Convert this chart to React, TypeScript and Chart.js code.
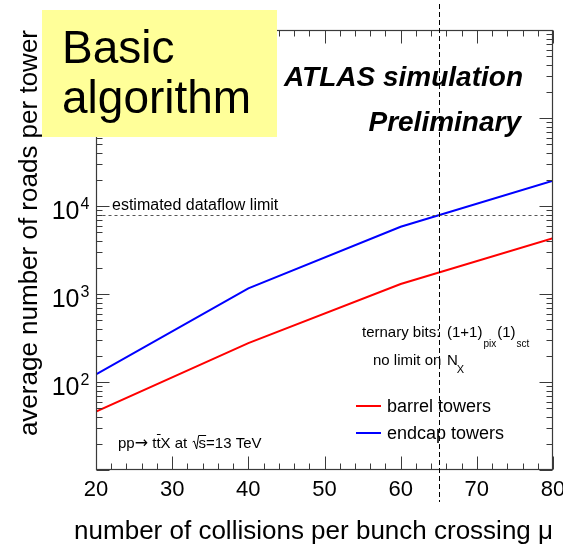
import React, { useEffect, useRef } from "react";
import { Chart, registerables } from "chart.js";

Chart.register(...registerables);

// Pile-up scan points and average road counts per tower
const mu = [20, 40, 60, 80];
const barrelRoads = [46, 277, 1300, 4300];
const endcapRoads = [122, 1160, 5800, 19400];

// Reference lines
const dataflowLimit = 8000;
const muBoundary = 65;

// Axis labelling
const xTickLabels = [20, 30, 40, 50, 60, 70, 80];
const yDecadeLabels = [2, 3, 4];
const seriesNames = ["barrel towers", "endcap towers"];
const seriesColors = ["#ff0000", "#0000ff"];

const FONT = '"Liberation Sans", Arial, Helvetica, sans-serif';

function seg(ctx: CanvasRenderingContext2D, x1: number, y1: number, x2: number, y2: number) {
  ctx.beginPath();
  ctx.moveTo(x1, y1);
  ctx.lineTo(x2, y2);
  ctx.stroke();
}

const rootStylePlugin = {
  id: "rootStyle",
  afterDraw(chart: any) {
    const ctx: CanvasRenderingContext2D = chart.ctx;
    const xs = chart.scales.x;
    const ys = chart.scales.y;
    const { left, right, top, bottom } = chart.chartArea;
    const L = Math.round(left) + 0.5;
    const R = Math.round(right) - 0.5;
    const T = Math.round(top) + 0.5;
    const B = Math.round(bottom) - 0.5;

    ctx.save();

    // estimated dataflow limit
    const yl = Math.round(ys.getPixelForValue(dataflowLimit)) + 0.5;
    ctx.strokeStyle = "#555";
    ctx.lineWidth = 1;
    ctx.setLineDash([3, 3]);
    seg(ctx, L, yl, R, yl);
    ctx.setLineDash([]);

    // frame
    ctx.strokeStyle = "#3a3a3a";
    ctx.lineWidth = 1.2;
    ctx.strokeRect(L, T, R - L, B - T);

    // x ticks (inward, bottom and top)
    ctx.lineWidth = 1;
    for (let v = 20; v <= 80; v += 2) {
      const px = Math.round(xs.getPixelForValue(v)) + 0.5;
      const len = v % 10 === 0 ? 13 : 6;
      seg(ctx, px, B, px, B - len);
      seg(ctx, px, T, px, T + len);
    }

    // y ticks (inward, left and right)
    for (let d = 1; d <= 6; d++) {
      for (let m = 1; m <= 9; m++) {
        const v = m * Math.pow(10, d);
        if (v > 1e6) break;
        const py = Math.round(ys.getPixelForValue(v)) + 0.5;
        const len = m === 1 ? 13 : 6;
        seg(ctx, L, py, L + len, py);
        seg(ctx, R, py, R - len, py);
      }
    }

    ctx.fillStyle = "#000";

    // x tick labels
    ctx.font = `22px ${FONT}`;
    ctx.textAlign = "center";
    ctx.textBaseline = "alphabetic";
    for (const v of xTickLabels) {
      ctx.fillText(String(v), xs.getPixelForValue(v), 496);
    }

    // y tick labels 10^n
    for (const d of yDecadeLabels) {
      const py = ys.getPixelForValue(Math.pow(10, d));
      ctx.font = `25px ${FONT}`;
      ctx.textAlign = "right";
      ctx.fillText("10", 79.5, py + 12.5);
      ctx.font = `16px ${FONT}`;
      ctx.textAlign = "left";
      ctx.fillText(String(d), 80.5, py + 2.5);
    }

    // axis titles
    ctx.font = `26px ${FONT}`;
    ctx.textAlign = "right";
    ctx.fillText("number of collisions per bunch crossing \u03bc", 553, 539);
    ctx.save();
    ctx.translate(37, 30);
    ctx.rotate(-Math.PI / 2);
    ctx.textAlign = "right";
    ctx.fillText("average number of roads per tower", 0, 0);
    ctx.restore();

    // dataflow limit label
    ctx.font = `16px ${FONT}`;
    ctx.textAlign = "left";
    ctx.fillText("estimated dataflow limit", 112, 210);

    // ATLAS label
    ctx.font = `italic bold 28px ${FONT}`;
    ctx.textAlign = "right";
    ctx.fillText("ATLAS simulation", 523, 86);
    ctx.fillText("Preliminary", 521, 131);

    // configuration text
    ctx.font = `15px ${FONT}`;
    ctx.textAlign = "left";
    ctx.fillText("ternary bits:", 362, 337);
    ctx.fillText("(1+1)", 447, 337);
    const w = ctx.measureText("(1+1)").width;
    ctx.font = `10px ${FONT}`;
    ctx.fillText("pix", 447 + w + 1, 347);
    const wPix = ctx.measureText("pix").width;
    ctx.font = `15px ${FONT}`;
    const x1 = 447 + w + 1 + wPix + 1;
    ctx.fillText("(1)", x1, 337);
    const w1 = ctx.measureText("(1)").width;
    ctx.font = `10px ${FONT}`;
    ctx.fillText("sct", x1 + w1 + 1, 347);

    ctx.font = `15px ${FONT}`;
    ctx.fillText("no limit on", 373, 365);
    ctx.fillText("N", 447, 365);
    const wN = ctx.measureText("N").width;
    ctx.font = `11px ${FONT}`;
    ctx.fillText("X", 447 + wN - 1, 373);

    // process label: pp -> t tbar X at sqrt(s)=13 TeV
    let cx = 118;
    const by = 448;
    const put = (s: string, font = `15px ${FONT}`) => {
      ctx.font = font;
      ctx.fillText(s, cx, by);
      const ww = ctx.measureText(s).width;
      const x0 = cx;
      cx += ww;
      return [x0, ww];
    };
    put("pp");
    put("\u2192", '16px "DejaVu Sans", sans-serif');
    put(" t");
    const [tbx, tbw] = put("t");
    ctx.lineWidth = 1;
    ctx.strokeStyle = "#000";
    seg(ctx, tbx + 0.5, by - 13.5, tbx + tbw, by - 13.5);
    put("X at  ");
    const sqrtX = cx;
    // radical sign
    ctx.beginPath();
    ctx.moveTo(sqrtX - 3, by - 6);
    ctx.lineTo(sqrtX - 1.5, by - 7);
    ctx.lineTo(sqrtX + 1, by + 1);
    ctx.lineTo(sqrtX + 3, by - 12.5);
    ctx.stroke();
    cx += 3;
    const [sx, sw] = put("s");
    seg(ctx, sqrtX + 3, by - 12.5, sx + sw, by - 12.5);
    put("=13 TeV");

    // legend
    ctx.lineWidth = 2;
    ctx.font = `18px ${FONT}`;
    const legendRows = [406, 433];
    seriesNames.forEach((name, i) => {
      const ly = legendRows[i];
      ctx.strokeStyle = seriesColors[i];
      seg(ctx, 356, ly, 381, ly);
      ctx.fillText(name, 387, ly + 6);
    });

    // mu boundary
    const xv = Math.round(xs.getPixelForValue(muBoundary)) + 0.5;
    ctx.strokeStyle = "#000";
    ctx.lineWidth = 1;
    ctx.setLineDash([5, 3]);
    seg(ctx, xv, 4, xv, 502);
    ctx.setLineDash([]);

    // algorithm tag
    ctx.fillStyle = "#ffff99";
    ctx.fillRect(42, 10, 235, 127);
    ctx.fillStyle = "#000";
    ctx.font = `46px ${FONT}`;
    ctx.textAlign = "left";
    ctx.fillText("Basic", 62, 63);
    ctx.fillText("algorithm", 62, 113);

    ctx.restore();
  },
};

export default function App() {
  const canvasRef = useRef<HTMLCanvasElement | null>(null);

  useEffect(() => {
    const canvas = canvasRef.current;
    if (!canvas) return;
    const chart = new Chart(canvas, {
      type: "line",
      data: {
        datasets: [
          {
            label: seriesNames[0],
            data: mu.map((m, i) => ({ x: m, y: barrelRoads[i] })),
            borderColor: seriesColors[0],
            borderWidth: 2,
            pointRadius: 0,
            tension: 0,
          },
          {
            label: seriesNames[1],
            data: mu.map((m, i) => ({ x: m, y: endcapRoads[i] })),
            borderColor: seriesColors[1],
            borderWidth: 2,
            pointRadius: 0,
            tension: 0,
          },
        ],
      },
      options: {
        responsive: false,
        animation: false,
        devicePixelRatio: 1,
        layout: { padding: { left: 96, right: 10, top: 30, bottom: 77 } },
        plugins: { legend: { display: false }, tooltip: { enabled: false } },
        scales: {
          x: { type: "linear", min: 20, max: 80, display: false },
          y: { type: "logarithmic", min: 10, max: 1e6, display: false },
        },
      },
      plugins: [rootStylePlugin],
    });
    return () => chart.destroy();
  }, []);

  return (
    <div style={{ position: "fixed", left: 0, top: 0, width: 563, height: 547, background: "#fff" }}>
      <canvas ref={canvasRef} width={563} height={547} style={{ display: "block" }} />
    </div>
  );
}
